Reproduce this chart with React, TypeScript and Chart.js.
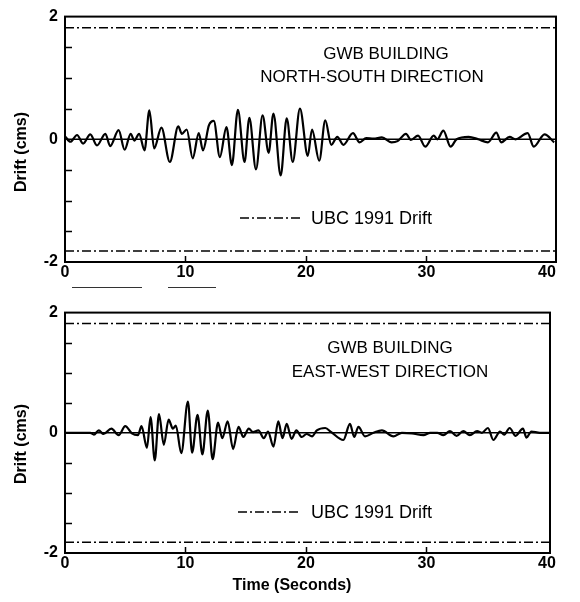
import React, { useEffect, useRef } from 'react';
import { Chart, registerables } from 'chart.js';

Chart.register(...registerables);

// ---- data ----
const nsSeries: [number, number][] = [
  [0, 0.05], [0.45, -0.04], [1.0, 0.07], [1.5, -0.07], [2.1, 0.08], [2.65, -0.1], [3.35, 0.09], [3.75, -0.11],
  [4.45, 0.15], [4.95, -0.17], [5.45, 0.09], [5.75, -0.02], [6.15, 0.09], [6.6, -0.18], [7.0, 0.47], [7.4, -0.15],
  [8.0, 0.19], [8.7, -0.37], [9.4, 0.21], [9.7, 0.09], [10.1, 0.16], [10.6, -0.31], [11.1, 0.1], [11.45, -0.18],
  [11.95, 0.23], [12.35, 0.3], [12.85, -0.29], [13.4, 0.2], [13.85, -0.42], [14.35, 0.48], [14.9, -0.37], [15.3, 0.35],
  [15.85, -0.49], [16.4, 0.39], [16.9, -0.22], [17.3, 0.42], [17.9, -0.59], [18.4, 0.34], [18.9, -0.37], [19.5, 0.5],
  [20.15, -0.27], [20.5, 0.16], [21.1, -0.35], [21.6, 0.31], [22.1, -0.09], [22.6, 0.04], [23.1, -0.09], [23.9, 0.1],
  [24.45, -0.05], [25.0, 0.02], [25.6, 0.01], [26.3, 0.03], [27.1, -0.05], [27.6, -0.03], [28.3, 0.09], [28.7, -0.01],
  [29.3, 0.06], [29.9, -0.12], [30.6, 0.06], [30.9, 0.0], [31.4, 0.14], [32.0, -0.12], [32.5, 0.0], [33.5, 0.04],
  [34.3, 0.0], [35.1, -0.05], [35.8, 0.11], [36.2, -0.05], [36.9, 0.04], [37.4, 0.0], [38.4, 0.1], [38.9, -0.12],
  [39.8, 0.08], [40.6, -0.05],
];

const ewSeries: [number, number][] = [
  [0, 0], [2.1, 0], [2.4, -0.03], [2.8, 0.04], [3.2, -0.02], [3.85, 0.07], [4.45, -0.04], [5.0, 0.11],
  [5.55, -0.01], [6.05, -0.04], [6.35, 0.11], [6.8, -0.25], [7.1, 0.26], [7.45, -0.46], [7.8, 0.31], [8.2, -0.2],
  [8.6, 0.22], [8.95, 0.07], [9.2, 0.12], [9.65, -0.34], [10.2, 0.52], [10.55, -0.33], [11.0, 0.3], [11.4, -0.36],
  [11.85, 0.37], [12.25, -0.44], [12.7, 0.17], [13.05, -0.09], [13.5, 0.19], [13.95, -0.27], [14.4, 0.1], [14.8, -0.07],
  [15.25, 0.07], [15.6, 0.01], [16.05, 0.04], [16.5, -0.09], [16.85, 0.02], [17.3, -0.23], [17.7, 0.19], [18.05, -0.09],
  [18.4, 0.15], [18.8, -0.1], [19.2, 0.04], [19.65, -0.07], [20.05, -0.02], [20.5, -0.06], [20.9, 0.04], [21.6, 0.08],
  [22.1, 0.01], [23.1, -0.12], [23.65, 0.15], [24.0, -0.07], [24.35, 0.1], [24.9, -0.06], [25.6, 0.0], [26.3, 0.04],
  [27.25, -0.06], [27.95, 0.0], [28.8, -0.01], [29.75, -0.04], [30.3, 0.0], [30.9, 0.0], [31.4, -0.04], [31.95, 0.03],
  [32.5, -0.05], [33.05, 0.03], [33.6, -0.04], [34.2, 0.03], [34.6, 0.0], [35.1, 0.08], [35.55, -0.12], [36.1, 0.02],
  [36.45, -0.03], [36.9, 0.08], [37.4, -0.05], [38.0, 0.07], [38.3, -0.08], [38.7, 0.02], [39.4, 0.0], [40.25, 0.0],
];

const ubcDrift = [1.82, -1.82];
const yTickValues = [-2, -1.5, -1, -0.5, 0, 0.5, 1, 1.5, 2];
const yLabelValues = [-2, 0, 2];
const xTickValues = [0, 10, 20, 30, 40];
const nsTitles = ['GWB BUILDING', 'NORTH-SOUTH DIRECTION'];
const ewTitles = ['GWB BUILDING', 'EAST-WEST DIRECTION'];
const legendLabel = 'UBC 1991 Drift';
const yAxisTitle = 'Drift (cms)';
const xAxisTitle = 'Time (Seconds)';

// ---- styling ----
const FONT = "'Liberation Sans', Arial, Helvetica, sans-serif";
const DASH = [9, 3, 2, 3];
const W = 580;

type Panel = {
  series: [number, number][];
  xMax: number;
  titles: string[];
  xTitle: string | null;
  height: number;
  area: { top: number; bottom: number; left: number; right: number };
  titlePos: [number, number][];
  legend: { x1: number; x2: number; tx: number; y: number };
  yTitlePos: [number, number];
  xTitlePos: [number, number];
};

const decorPlugin = {
  id: 'decor',
  afterDatasetsDraw(chart: any, _args: any, opts: any) {
    const { ctx, chartArea: a, scales } = chart;
    const xs = scales.x;
    const ys = scales.y;
    ctx.save();
    ctx.strokeStyle = '#000';
    ctx.fillStyle = '#000';
    ctx.lineWidth = 1.5;
    ctx.beginPath();
    ys.ticks.forEach((t: any) => {
      if (t.value > -2 && t.value < 2 && t.value !== 0) {
        const py = Math.round(ys.getPixelForValue(t.value)) + 0.5;
        ctx.moveTo(a.left, py);
        ctx.lineTo(a.left + 7, py);
      }
    });
    xs.ticks.forEach((t: any) => {
      if (t.value > 0 && t.value < 40) {
        const px = Math.round(xs.getPixelForValue(t.value)) + 0.5;
        ctx.moveTo(px, a.bottom);
        ctx.lineTo(px, a.bottom - 6);
      }
    });
    ctx.stroke();
    ctx.lineWidth = 2;
    ctx.strokeRect(a.left, a.top, a.right - a.left, a.bottom - a.top);

    ctx.font = `17px ${FONT}`;
    ctx.textAlign = 'center';
    ctx.textBaseline = 'middle';
    (opts.titles as string[]).forEach((t, i) => ctx.fillText(t, opts.titlePos[i][0], opts.titlePos[i][1]));

    const L = opts.legend;
    ctx.setLineDash(DASH);
    ctx.lineWidth = 1.5;
    ctx.beginPath();
    ctx.moveTo(L.x1, L.y);
    ctx.lineTo(L.x2, L.y);
    ctx.stroke();
    ctx.setLineDash([]);
    ctx.font = `18px ${FONT}`;
    ctx.textAlign = 'left';
    ctx.fillText(legendLabel, L.tx, L.y + 1);

    // axis titles
    ctx.font = `bold 16px ${FONT}`;
    ctx.textAlign = 'center';
    ctx.save();
    ctx.translate(opts.yTitlePos[0], opts.yTitlePos[1]);
    ctx.rotate(-Math.PI / 2);
    ctx.fillText(yAxisTitle, 0, 0);
    ctx.restore();
    if (opts.xTitle) ctx.fillText(opts.xTitle, opts.xTitlePos[0], opts.xTitlePos[1]);
    ctx.restore();
  },
};

function DriftPanel({ p }: { p: Panel }) {
  const ref = useRef<HTMLCanvasElement | null>(null);
  useEffect(() => {
    if (!ref.current) return;
    const flat = (v: number) => [{ x: 0, y: v }, { x: p.xMax, y: v }];
    const chart = new Chart(ref.current, {
      type: 'line',
      data: {
        datasets: [
          { data: flat(0), borderColor: '#000', borderWidth: 1.5, pointRadius: 0 },
          ...ubcDrift.map((u) => ({
            data: flat(u),
            borderColor: '#000',
            borderWidth: 1.5,
            borderDash: DASH,
            pointRadius: 0,
          })),
          {
            data: p.series.map(([x, y]) => ({ x, y })),
            borderColor: '#000',
            borderWidth: 2.2,
            pointRadius: 0,
            cubicInterpolationMode: 'monotone',
          },
        ],
      } as any,
      options: {
        responsive: false,
        animation: false,
        events: [],
        layout: { padding: { left: 0, right: W - p.area.right, top: p.area.top, bottom: 0 } },
        plugins: {
          legend: { display: false },
          tooltip: { enabled: false },
          decor: {
            titles: p.titles,
            titlePos: p.titlePos,
            legend: p.legend,
            yTitlePos: p.yTitlePos,
            xTitlePos: p.xTitlePos,
            xTitle: p.xTitle,
          },
        } as any,
        scales: {
          x: {
            type: 'linear',
            min: 0,
            max: p.xMax,
            afterFit: (s: any) => { s.height = p.height - p.area.bottom; },
            afterBuildTicks: (s: any) => { s.ticks = xTickValues.map((v) => ({ value: v })); },
            grid: { display: false, drawTicks: false },
            border: { display: false },
            ticks: {
              padding: 1,
              color: '#000',
              maxRotation: 0,
              autoSkip: false,
              font: { family: FONT, size: 16, weight: 'bold' },
              callback: (v: any) => String(v),
            },
          },
          y: {
            type: 'linear',
            min: -2,
            max: 2,
            afterFit: (s: any) => { s.width = p.area.left; },
            afterBuildTicks: (s: any) => { s.ticks = yTickValues.map((v) => ({ value: v })); },
            grid: { display: false, drawTicks: false },
            border: { display: false },
            ticks: {
              padding: 7,
              color: '#000',
              autoSkip: false,
              font: { family: FONT, size: 16, weight: 'bold' },
              callback: (v: any) => (yLabelValues.includes(Number(v)) ? String(v) : ''),
            },
          },
        },
      } as any,
      plugins: [decorPlugin],
    });
    return () => chart.destroy();
  }, [p]);
  return <canvas ref={ref} width={W} height={p.height} style={{ display: 'block' }} />;
}

const topPanel: Panel = {
  series: nsSeries,
  xMax: 40.75,
  titles: nsTitles,
  xTitle: null,
  height: 296,
  area: { top: 15, bottom: 262, left: 65, right: 556 },
  titlePos: [[386, 54], [372, 77]],
  legend: { x1: 240, x2: 303, tx: 311, y: 218 },
  yTitlePos: [22, 152],
  xTitlePos: [0, 0],
};

const bottomPanel: Panel = {
  series: ewSeries,
  xMax: 40.25,
  titles: ewTitles,
  xTitle: xAxisTitle,
  height: 306,
  area: { top: 11, bottom: 257, left: 65, right: 550 },
  titlePos: [[390, 52], [390, 76]],
  legend: { x1: 238, x2: 301, tx: 311, y: 216 },
  yTitlePos: [22, 148],
  xTitlePos: [292, 290],
};

export default function App() {
  return (
    <div style={{ position: 'absolute', left: 0, top: 0, width: W, height: 602, background: '#fff' }}>
      <DriftPanel p={topPanel} />
      <DriftPanel p={bottomPanel} />
      <div style={{ position: 'absolute', left: 72, top: 287, width: 70, height: 1, background: '#333' }} />
      <div style={{ position: 'absolute', left: 168, top: 287, width: 48, height: 1, background: '#333' }} />
    </div>
  );
}
